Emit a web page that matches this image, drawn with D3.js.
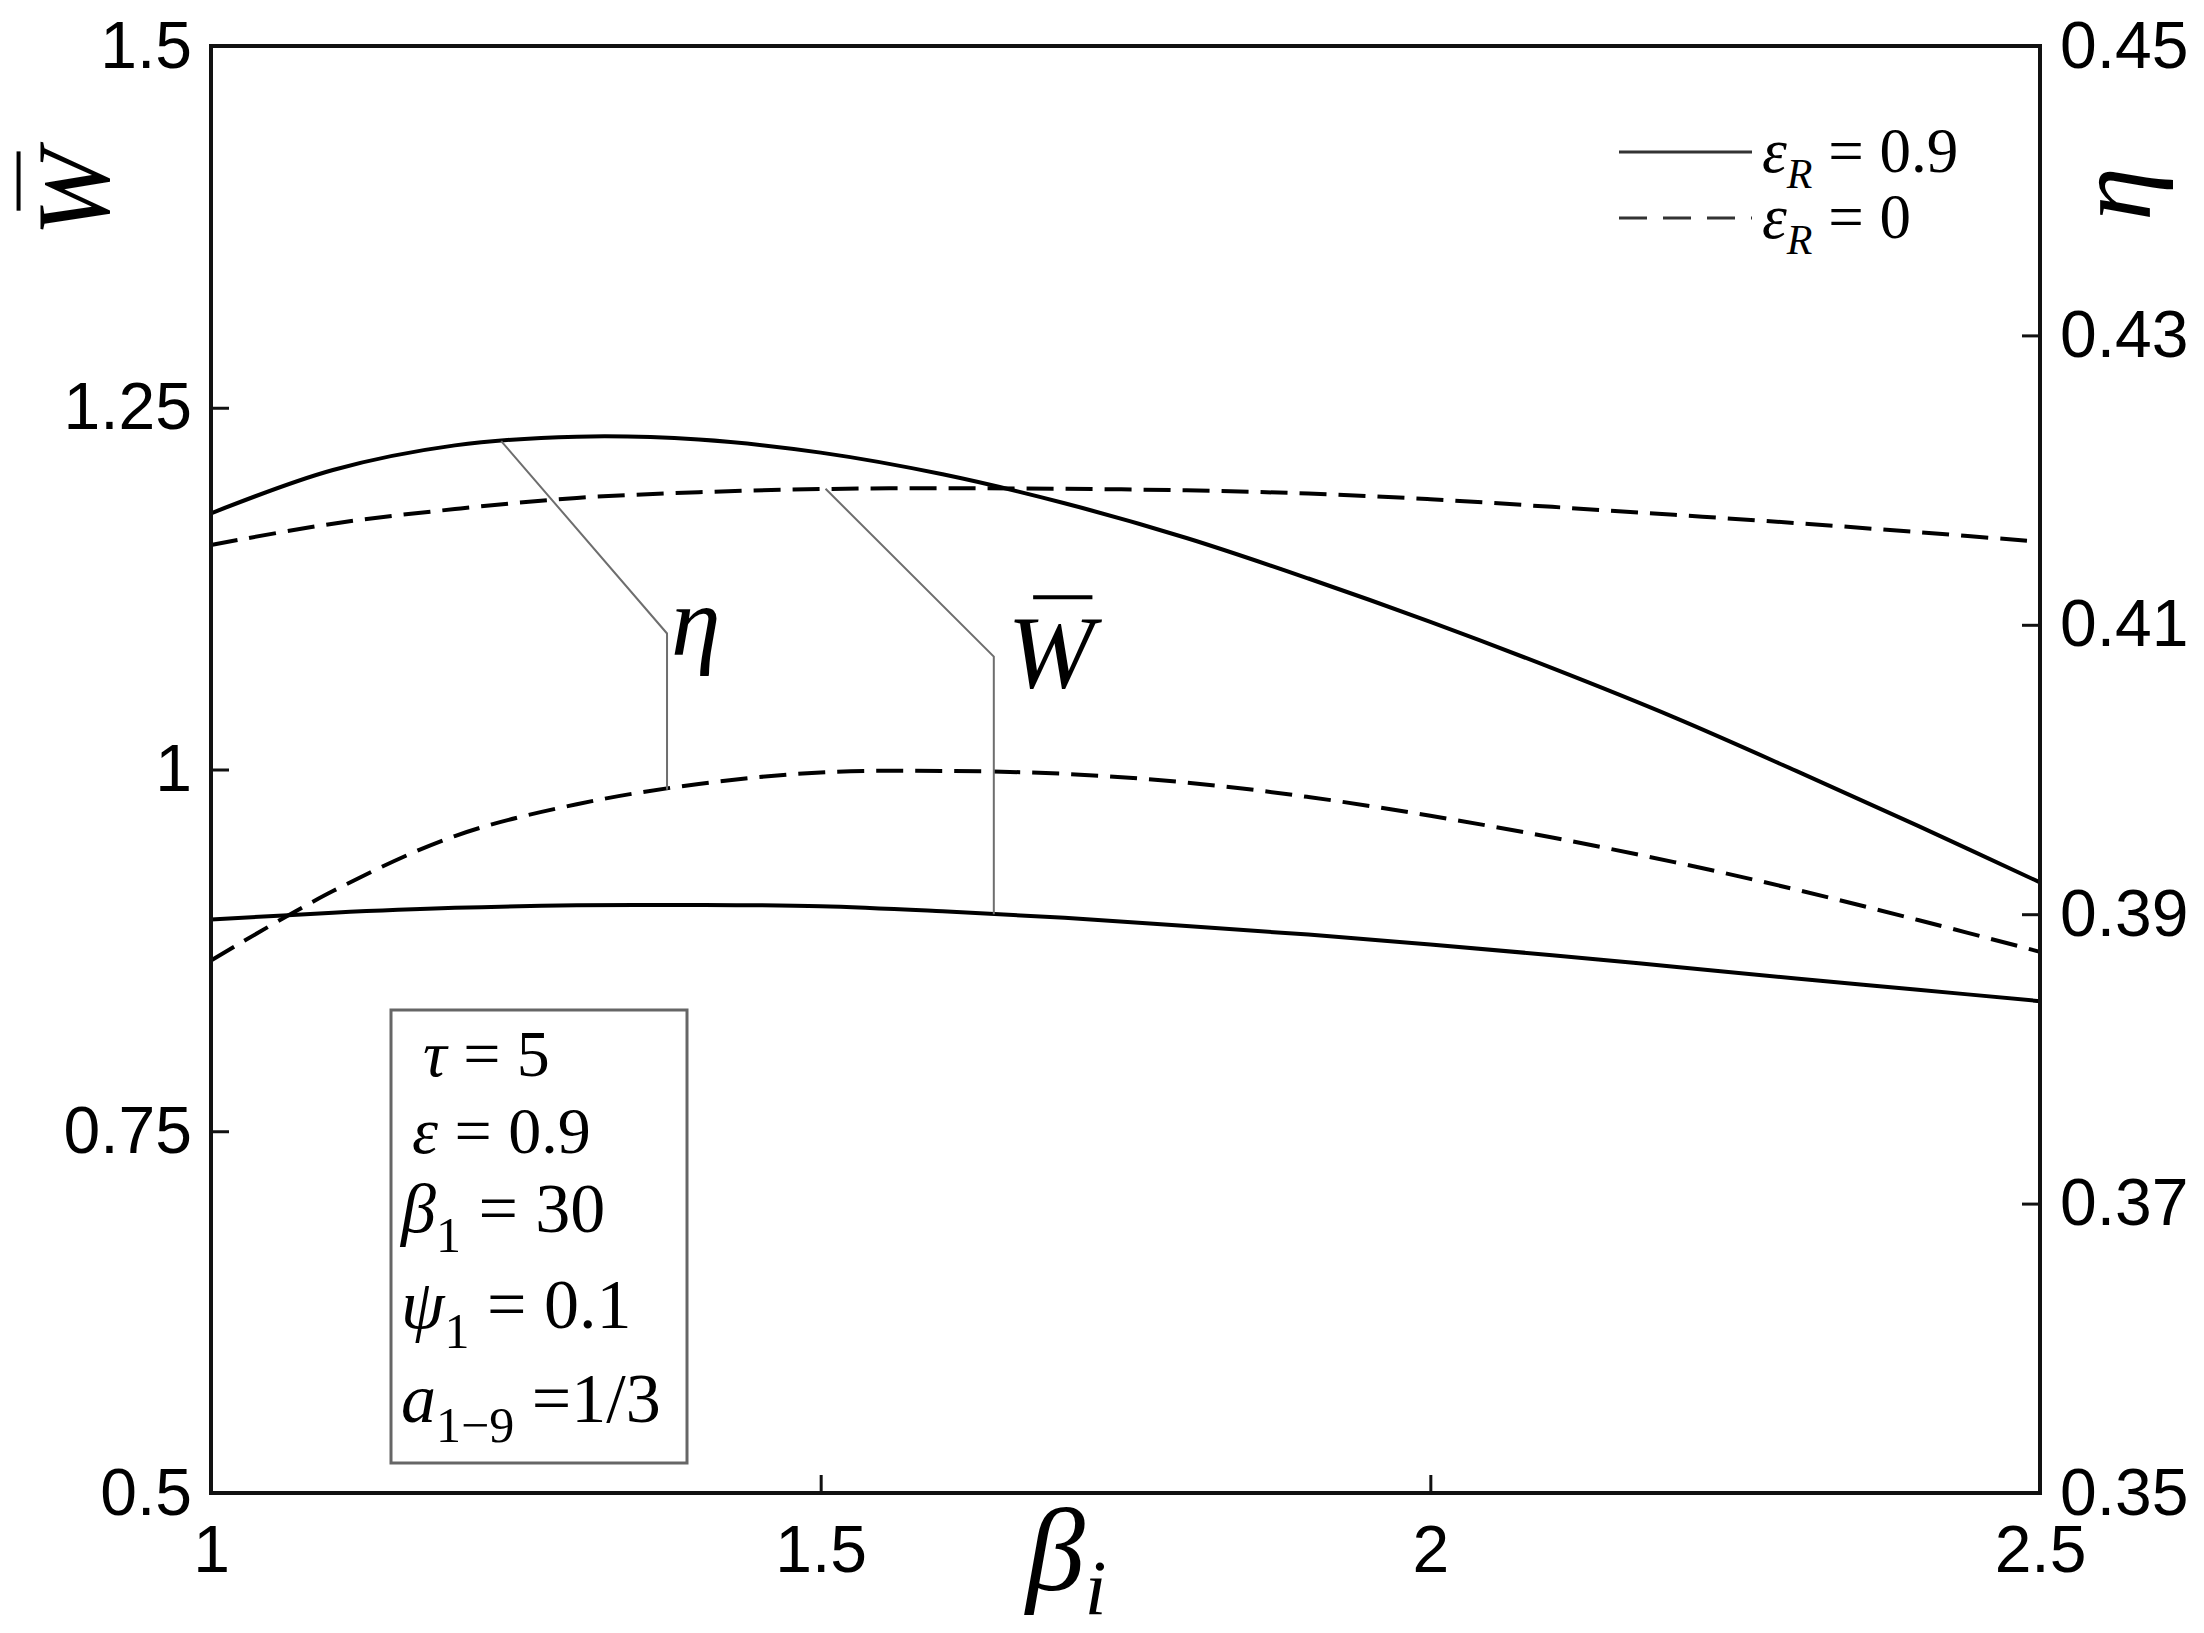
<!DOCTYPE html>
<html>
<head>
<meta charset="UTF-8">
<style>
  body { margin: 0; background: #fff; }
  svg { display: block; }
  .tick text { font-family: "Liberation Sans", Arial, sans-serif; fill: #000; }
  .math { font-family: "Liberation Serif", "Times New Roman", serif; fill: #000; }
</style>
</head>
<body>
<svg id="chart"></svg>
<script src="https://d3js.org/d3.v7.min.js"></script>
<script>
// beta_i values
const beta = [1.0, 1.1, 1.2, 1.3, 1.4, 1.5, 1.6, 1.7, 1.8, 1.9, 2.0, 2.1, 2.2, 2.3, 2.4, 2.5];

// efficiency eta (right axis)
const etaR09 = [0.4177, 0.4207, 0.4224, 0.4230, 0.4228, 0.4219, 0.4204, 0.4184, 0.4160, 0.4132,
                0.4102, 0.4070, 0.4036, 0.3999, 0.3961, 0.3922];
const etaR0  = [0.3868, 0.3916, 0.3954, 0.3976, 0.3990, 0.3998, 0.3999, 0.3997, 0.3991, 0.3981,
                0.3968, 0.3953, 0.3936, 0.3917, 0.3896, 0.3874];

// dimensionless power W-bar (left axis)
const wR09 = [0.8963, 0.9010, 0.9044, 0.9061, 0.9064, 0.9055, 0.9020, 0.8975, 0.8918, 0.8859,
              0.8790, 0.8717, 0.8637, 0.8556, 0.8478, 0.8399];
const wR0  = [1.1552, 1.1699, 1.1800, 1.1877, 1.1916, 1.1938, 1.1944, 1.1940, 1.1929, 1.1907,
              1.1868, 1.1815, 1.1760, 1.1703, 1.1640, 1.1574];

const xTicks = [1, 1.5, 2, 2.5];
const leftTicks = [0.5, 0.75, 1, 1.25, 1.5];
const rightTicks = [0.35, 0.37, 0.39, 0.41, 0.43, 0.45];

// leader lines for the in-plot labels
const etaLeader = [[1.238, 0.4227], [1.374, 0.4094], [1.374, 0.3986]];
const wLeader = [[1.504, 1.194], [1.642, 1.078], [1.642, 0.9000]];

// parameter box lines
const params = [
  {main: "\u03c4", sub: "", rest: " = 5", dx: 32, size: 66, base: 1076},
  {main: "\u03b5", sub: "", rest: " = 0.9", dx: 21, size: 66, base: 1153},
  {main: "\u03b2", sub: "1", rest: " = 30", dx: 10, size: 70, base: 1232},
  {main: "\u03c8", sub: "1", rest: " = 0.1", dx: 10, size: 70, base: 1328},
  {main: "a", sub: "1\u22129", rest: " =1/3", dx: 10, size: 70, base: 1422}
];

const width = 2204, height = 1633;
const plotL = 211, plotR = 2040, plotT = 46, plotB = 1493;

const svg = d3.select("#chart").attr("width", width).attr("height", height);
svg.append("rect").attr("width", width).attr("height", height).attr("fill", "#fff");

const x = d3.scaleLinear().domain([1, 2.5]).range([plotL, plotR]);
const yW = d3.scaleLinear().domain([0.5, 1.5]).range([plotB, plotT]);
const yEta = d3.scaleLinear().domain([0.35, 0.45]).range([plotB, plotT]);

// axes
const fmt = d => String(d);
const gx = svg.append("g").attr("transform", `translate(0,${plotB})`)
  .call(d3.axisBottom(x).tickValues(xTicks).tickFormat(fmt).tickSize(-18).tickPadding(32));
const gl = svg.append("g").attr("transform", `translate(${plotL},0)`)
  .call(d3.axisLeft(yW).tickValues(leftTicks).tickFormat(fmt).tickSize(-18).tickPadding(19));
const gr = svg.append("g").attr("transform", `translate(${plotR},0)`)
  .call(d3.axisRight(yEta).tickValues(rightTicks).tickFormat(fmt).tickSize(-18).tickPadding(20));

[gx, gl, gr].forEach(g => {
  g.select(".domain").remove();
  g.selectAll(".tick line").attr("stroke", "#111").attr("stroke-width", 3);
  g.selectAll(".tick text").attr("font-size", 66);
});

// curves
const series = [
  {values: etaR09, y: yEta, dash: null},
  {values: etaR0, y: yEta, dash: "27,12"},
  {values: wR09, y: yW, dash: null},
  {values: wR0, y: yW, dash: "27,12"}
];

series.forEach(s => {
  const line = d3.line()
    .x((d, i) => x(beta[i]))
    .y(d => s.y(d))
    .curve(d3.curveCatmullRom.alpha(0.5));
  svg.append("path")
    .attr("d", line(s.values))
    .attr("fill", "none")
    .attr("stroke", "#000")
    .attr("stroke-width", 4)
    .attr("stroke-dasharray", s.dash);
});

// leader lines
const leader = (pts, y) => {
  svg.append("path")
    .attr("d", d3.line().x(d => x(d[0])).y(d => y(d[1]))(pts))
    .attr("fill", "none")
    .attr("stroke", "#6e6e6e")
    .attr("stroke-width", 2);
};
leader(etaLeader, yEta);
leader(wLeader, yW);

// W with overbar, centred at (0,0) baseline
function wBar(g, size) {
  g.append("text").attr("class", "math")
    .attr("text-anchor", "middle")
    .attr("font-style", "italic")
    .attr("font-size", size)
    .text("W");
  g.append("line")
    .attr("x1", -0.17 * size).attr("x2", 0.4 * size)
    .attr("y1", -0.86 * size).attr("y2", -0.86 * size)
    .attr("stroke", "#000").attr("stroke-width", 4);
}

// in-plot labels
const etaKnee = [x(etaLeader[1][0]), yEta(etaLeader[1][1])];
svg.append("text").attr("class", "math")
  .attr("x", etaKnee[0] + 4).attr("y", etaKnee[1] + 22)
  .attr("font-style", "italic").attr("font-size", 100)
  .text("\u03b7");

const wKnee = [x(wLeader[1][0]), yW(wLeader[1][1])];
wBar(svg.append("g").attr("transform", `translate(${wKnee[0] + 57},${wKnee[1] + 30})`), 104);

// axis labels
wBar(svg.append("g").attr("transform", "translate(108,193) rotate(-90)"), 104);

svg.append("text").attr("class", "math")
  .attr("transform", "translate(2150,194) rotate(-90)")
  .attr("text-anchor", "middle")
  .attr("font-style", "italic").attr("font-size", 108)
  .text("\u03b7");

const xl = svg.append("text").attr("class", "math")
  .attr("x", 1026).attr("y", 1590)
  .attr("font-style", "italic").attr("font-size", 118);
xl.append("tspan").text("\u03b2");
xl.append("tspan").attr("font-size", 78).attr("dy", 24).text("i");

// legend
const legend = [
  {label: " = 0.9", dash: null, y: 152},
  {label: " = 0", dash: "28,16", y: 218}
];
legend.forEach(d => {
  svg.append("line")
    .attr("x1", 1619).attr("x2", 1752)
    .attr("y1", d.y).attr("y2", d.y)
    .attr("stroke", "#333").attr("stroke-width", 3)
    .attr("stroke-dasharray", d.dash);
  const t = svg.append("text").attr("class", "math")
    .attr("x", 1762).attr("y", d.y + 20)
    .attr("font-size", 63);
  t.append("tspan").attr("font-style", "italic").text("\u03b5");
  t.append("tspan").attr("font-style", "italic").attr("font-size", 42).attr("dy", 16).text("R");
  t.append("tspan").attr("dy", -16).text(d.label);
});

// parameter box
svg.append("rect")
  .attr("x", 391).attr("y", 1010).attr("width", 296).attr("height", 453)
  .attr("fill", "#fff").attr("stroke", "#666").attr("stroke-width", 3);

params.forEach(p => {
  const t = svg.append("text").attr("class", "math")
    .attr("x", 391 + p.dx).attr("y", p.base)
    .attr("font-size", p.size);
  t.append("tspan").attr("font-style", "italic").text(p.main);
  if (p.sub) {
    t.append("tspan").attr("font-size", 50).attr("dy", 20).text(p.sub);
    t.append("tspan").attr("dy", -20).text(p.rest);
  } else {
    t.append("tspan").text(p.rest);
  }
});

// frame
svg.append("rect")
  .attr("x", plotL).attr("y", plotT)
  .attr("width", plotR - plotL).attr("height", plotB - plotT)
  .attr("fill", "none").attr("stroke", "#111").attr("stroke-width", 4);
</script>
</body>
</html>
